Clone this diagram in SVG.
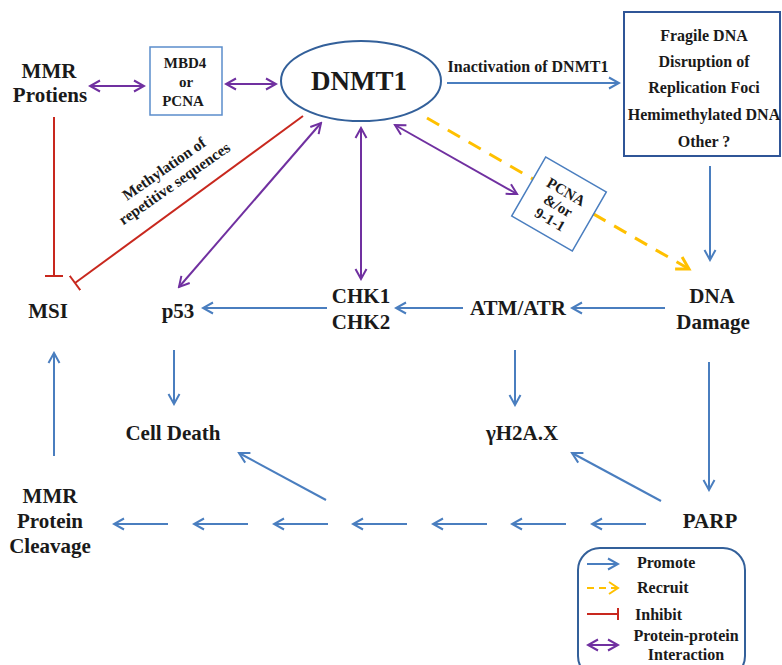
<svg xmlns="http://www.w3.org/2000/svg" width="782" height="665" viewBox="0 0 782 665" font-family="Liberation Serif, serif">
<defs>
<style>
text{font-family:'Liberation Serif',serif;font-weight:bold;fill:#1a1a1a;text-anchor:middle}
.big{font-size:21px}
.med{font-size:16px}
.sm{font-size:15px}
.blue{stroke:#4A7EBF;stroke-width:2;fill:none}
.purple{stroke:#7030A0;stroke-width:2;fill:none}
.red{stroke:#C8281E;stroke-width:2;fill:none}
.yellow{stroke:#FFC000;stroke-width:3;fill:none;stroke-dasharray:14 10}
</style>
<marker id="ab" viewBox="0 0 14 14" refX="12" refY="7" markerWidth="14" markerHeight="14" markerUnits="userSpaceOnUse" orient="auto-start-reverse"><path d="M2,1.5 L12,7 L2,12.5" fill="none" stroke="#4A7EBF" stroke-width="2"/></marker>
<marker id="ap" viewBox="0 0 14 14" refX="12" refY="7" markerWidth="14" markerHeight="14" markerUnits="userSpaceOnUse" orient="auto-start-reverse"><path d="M2,1.5 L12,7 L2,12.5" fill="none" stroke="#7030A0" stroke-width="2"/></marker>
<marker id="ay" viewBox="0 0 18 18" refX="15" refY="9" markerWidth="18" markerHeight="18" markerUnits="userSpaceOnUse" orient="auto"><path d="M3,2 L15,9 L3,16" fill="none" stroke="#FFC000" stroke-width="3"/></marker>
<marker id="ti" viewBox="0 0 4 18" refX="2" refY="9" markerWidth="4" markerHeight="18" markerUnits="userSpaceOnUse" orient="auto"><path d="M2,0 L2,18" stroke="#C8281E" stroke-width="2"/></marker>
</defs>
<rect width="782" height="665" fill="#fff"/>

<g id="connectors">
<line class="purple" x1="90" y1="86" x2="144" y2="86" marker-start="url(#ap)" marker-end="url(#ap)"/>
<line class="purple" x1="226" y1="84" x2="276" y2="84" marker-start="url(#ap)" marker-end="url(#ap)"/>
<line class="blue" x1="447" y1="83" x2="619" y2="83" marker-end="url(#ab)"/>
<line class="blue" x1="710" y1="166" x2="710" y2="260" marker-end="url(#ab)"/>
<line class="yellow" x1="427" y1="118" x2="689" y2="269" marker-end="url(#ay)"/>
<line class="purple" x1="395" y1="125" x2="517" y2="194" marker-start="url(#ap)" marker-end="url(#ap)"/>
<line class="red" x1="303" y1="116" x2="75" y2="283" marker-end="url(#ti)"/>
<line class="red" x1="54" y1="117" x2="54" y2="276" marker-end="url(#ti)"/>
<line class="purple" x1="321" y1="123" x2="179" y2="287" marker-start="url(#ap)" marker-end="url(#ap)"/>
<line class="purple" x1="361" y1="128" x2="361" y2="279" marker-start="url(#ap)" marker-end="url(#ap)"/>
<line class="blue" x1="327" y1="308" x2="203" y2="308" marker-end="url(#ab)"/>
<line class="blue" x1="463" y1="308" x2="396" y2="308" marker-end="url(#ab)"/>
<line class="blue" x1="665" y1="308" x2="572" y2="308" marker-end="url(#ab)"/>
<line class="blue" x1="515" y1="350" x2="515" y2="405" marker-end="url(#ab)"/>
<line class="blue" x1="709" y1="362" x2="709" y2="490" marker-end="url(#ab)"/>
<line class="blue" x1="661" y1="501" x2="572" y2="453" marker-end="url(#ab)"/>
<line class="blue" x1="174" y1="350" x2="174" y2="404" marker-end="url(#ab)"/>
<line class="blue" x1="326" y1="500" x2="239" y2="453" marker-end="url(#ab)"/>
<line class="blue" x1="54" y1="456" x2="54" y2="353" marker-end="url(#ab)"/>
<line class="blue" x1="646" y1="524" x2="592" y2="524" marker-end="url(#ab)"/>
<line class="blue" x1="566" y1="524" x2="512" y2="524" marker-end="url(#ab)"/>
<line class="blue" x1="487" y1="524" x2="433" y2="524" marker-end="url(#ab)"/>
<line class="blue" x1="407" y1="524" x2="353" y2="524" marker-end="url(#ab)"/>
<line class="blue" x1="328" y1="524" x2="274" y2="524" marker-end="url(#ab)"/>
<line class="blue" x1="248" y1="524" x2="194" y2="524" marker-end="url(#ab)"/>
<line class="blue" x1="168" y1="524" x2="114" y2="524" marker-end="url(#ab)"/>
<text class="med" x="528" y="72">Inactivation of DNMT1</text>
<g transform="translate(167,173) rotate(-35)">
<text style="font-size:15.5px" x="0" y="0">Methylation of</text>
<text style="font-size:15.5px" x="0" y="18">repetitive sequences</text>
</g>
</g>

<g id="mmr-proteins">
<text class="big" x="49" y="78">MMR</text>
<text class="big" x="50" y="102">Protiens</text>
</g>
<g id="mbd4-pcna">
<rect x="150" y="47" width="72" height="68" fill="#fff" stroke="#5B8DCB" stroke-width="1.5"/>
<text class="sm" x="185" y="68">MBD4</text>
<text class="sm" x="186" y="87">or</text>
<text class="sm" x="183" y="106">PCNA</text>
</g>
<g id="dnmt1">
<ellipse cx="361" cy="81" rx="80" ry="40" fill="#fff" stroke="#33609A" stroke-width="2"/>
<text x="359" y="90" style="font-size:27px">DNMT1</text>
</g>
<g id="effects">
<rect x="624" y="12" width="156" height="144" fill="#fff" stroke="#2F5597" stroke-width="2"/>
<text class="med" x="704" y="41">Fragile DNA</text>
<text class="med" x="704" y="67">Disruption of</text>
<text class="med" x="704" y="93">Replication Foci</text>
<text class="med" x="704" y="120">Hemimethylated DNA</text>
<text class="med" x="704" y="147">Other ?</text>
</g>
<g id="pcna-911" transform="translate(559,204) rotate(30)">
<rect x="-35" y="-34" width="70" height="68" fill="#fff" stroke="#4A7EBF" stroke-width="1.5"/>
<text class="sm" x="0" y="-9">PCNA</text>
<text class="sm" x="0" y="7">&amp;/or</text>
<text class="sm" x="0" y="23">9-1-1</text>
</g>
<g id="msi"><text class="big" x="48" y="318">MSI</text></g>
<g id="p53"><text class="big" x="178" y="318">p53</text></g>
<g id="chk">
<text class="big" x="361" y="303">CHK1</text>
<text class="big" x="361" y="329">CHK2</text>
</g>
<g id="atm-atr"><text class="big" x="518" y="315">ATM/ATR</text></g>
<g id="dna-damage">
<text class="big" x="712" y="303">DNA</text>
<text class="big" x="713" y="329">Damage</text>
</g>
<g id="h2ax"><text class="big" x="522" y="440">γH2A.X</text></g>
<g id="cell-death"><text class="big" x="173" y="440">Cell Death</text></g>
<g id="parp"><text class="big" x="710" y="528">PARP</text></g>
<g id="mmr-cleavage">
<text class="big" x="50" y="503">MMR</text>
<text class="big" x="50" y="528">Protein</text>
<text class="big" x="50" y="553">Cleavage</text>
</g>

<g id="legend">
<rect x="578" y="548" width="167" height="130" rx="22" fill="#fff" stroke="#33609A" stroke-width="2"/>
<line class="blue" x1="587" y1="564" x2="618" y2="564" marker-end="url(#ab)"/>
<text class="med" x="637" y="568" style="text-anchor:start">Promote</text>
<line stroke="#FFC000" stroke-width="2" stroke-dasharray="7 5" x1="587" y1="588" x2="618" y2="588"/>
<path d="M609,582 L618,588 L609,594" fill="none" stroke="#FFC000" stroke-width="2"/>
<text class="med" x="637" y="593" style="text-anchor:start">Recruit</text>
<line class="red" x1="587" y1="614" x2="618" y2="614"/>
<line class="red" x1="618" y1="608" x2="618" y2="620"/>
<text class="med" x="635" y="620" style="text-anchor:start">Inhibit</text>
<line class="purple" x1="588" y1="645" x2="618" y2="645" marker-start="url(#ap)" marker-end="url(#ap)"/>
<text class="med" x="686" y="641">Protein-protein</text>
<text class="med" x="686" y="660">Interaction</text>
</g>
</svg>
